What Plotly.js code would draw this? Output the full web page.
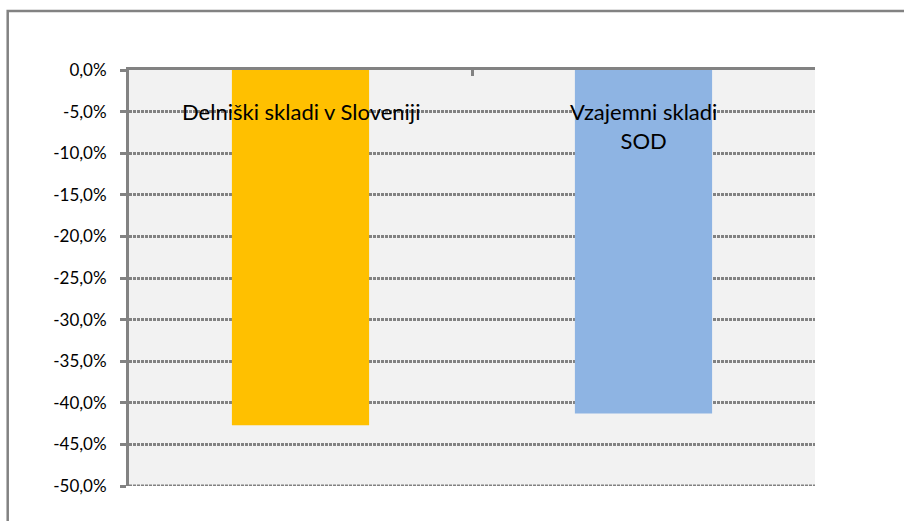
<!DOCTYPE html>
<html>
<head>
<meta charset="utf-8">
<script src="https://cdn.plot.ly/plotly-3.0.1.min.js"></script>
<style>
html,body{margin:0;padding:0;background:#fff;}
#chart{width:904px;height:521px;}
</style>
</head>
<body>
<div id="chart"></div>
<script>
// Data
const categories = ["Delniški skladi v Sloveniji", "Vzajemni skladi<br>SOD"];
const values = [-42.7, -41.3];
const barColors = ["#FFC000", "#8EB4E3"];
const yTickVals = [0, -5, -10, -15, -20, -25, -30, -35, -40, -45, -50];
const yTickText = ["0,0%", "-5,0%", "-10,0%", "-15,0%", "-20,0%", "-25,0%", "-30,0%", "-35,0%", "-40,0%", "-45,0%", "-50,0%"];

const W = 904, H = 521;
const M = {l: 129, r: 89, t: 70, b: 35};
const pw = W - M.l - M.r, ph = H - M.t - M.b;

const FONT = "Lato, 'Open Sans', sans-serif";
const GRAY = "#828282";

const trace = {
  type: "bar",
  x: categories,
  y: values,
  marker: {color: barColors, line: {width: 0}},
  hoverinfo: "skip"
};

const annotations = categories.map((c) => ({
  x: c, xref: "x",
  y: -5, yref: "y",
  text: c,
  showarrow: false,
  xanchor: "center",
  yanchor: "top",
  yshift: 16,
  align: "center",
  font: {family: FONT, size: 22, color: "#000"}
}));

const yMin = yTickVals[yTickVals.length - 1];

const layout = {
  width: W, height: H,
  margin: M,
  paper_bgcolor: "#ffffff",
  plot_bgcolor: "#f2f2f2",
  bargap: 0.6,
  showlegend: false,
  xaxis: {
    type: "category",
    side: "top",
    showline: true,
    linecolor: GRAY,
    linewidth: 3,
    showgrid: false,
    zeroline: false,
    showticklabels: false,
    tickmode: "array",
    tickvals: [-0.5, 0.5, 1.5],
    ticks: "inside",
    ticklen: 6,
    tickwidth: 3,
    tickcolor: GRAY,
    range: [-0.5, 1.5],
    fixedrange: true
  },
  yaxis: {
    range: [yMin, 0],
    tickmode: "array",
    tickvals: yTickVals,
    ticktext: yTickText,
    showline: true,
    linecolor: GRAY,
    linewidth: 3,
    ticks: "outside",
    ticklen: 6,
    tickwidth: 3,
    tickcolor: GRAY,
    ticklabelstandoff: 10,
    showgrid: true,
    gridcolor: GRAY,
    gridwidth: 3,
    griddash: "3px,1px",
    zeroline: false,
    tickfont: {family: FONT, size: 17, color: "#000"},
    fixedrange: true
  },
  annotations: annotations,
  shapes: [
    {
      type: "line",
      xref: "paper", yref: "y",
      x0: 0, x1: 1, y0: yMin, y1: yMin,
      line: {color: GRAY, width: 3, dash: "3px,1px"},
      layer: "below"
    },
    {
      type: "path",
      xref: "paper", yref: "paper",
      path: "M " + ((7.7 - M.l) / pw) + "," + (-0.3) +
            " L " + ((7.7 - M.l) / pw) + "," + (1 + (M.t - 11) / ph) +
            " L " + 1.3 + "," + (1 + (M.t - 11) / ph),
      line: {color: GRAY, width: 2.5},
      layer: "above"
    }
  ]
};

Plotly.newPlot("chart", [trace], layout, {displayModeBar: false, staticPlot: true});
</script>
</body>
</html>
